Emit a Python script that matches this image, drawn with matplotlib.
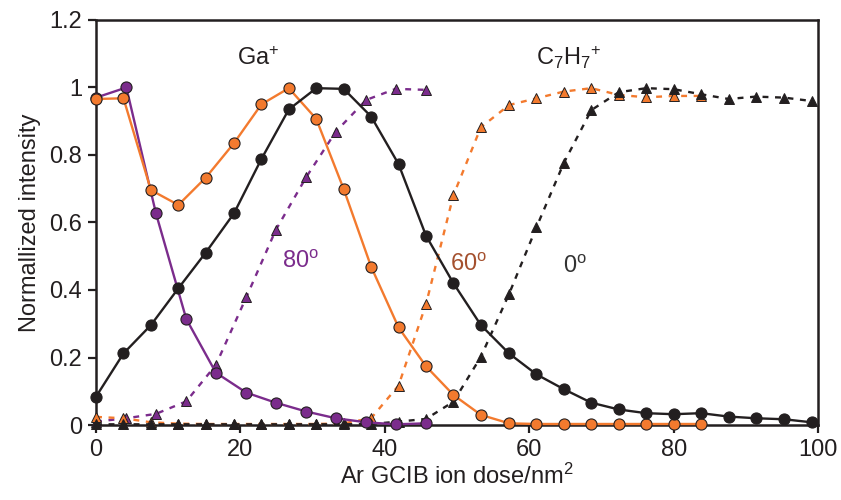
import matplotlib.pyplot as plt

plt.rcParams['font.family'] = ['Liberation Sans', 'DejaVu Sans']
plt.rcParams['mathtext.default'] = 'regular'

# ion doses (per nm^2) for the 0 and 60 degree runs, and the 80 degree run
dose = [0, 3.8, 7.6, 11.4, 15.2, 19.1, 22.9, 26.7, 30.5, 34.3, 38.1, 41.9, 45.7,
        49.5, 53.3, 57.2, 61.0, 64.8, 68.6, 72.4, 76.2, 80.0, 83.8, 87.6, 91.4,
        95.3, 99.1]
dose_80 = [0, 4.2, 8.3, 12.5, 16.6, 20.8, 24.9, 29.1, 33.2, 37.4, 41.5, 45.7]

# Ga+ intensities
ga_0 = [0.084, 0.212, 0.296, 0.405, 0.511, 0.627, 0.788, 0.935, 0.998, 0.996,
        0.914, 0.773, 0.561, 0.42, 0.296, 0.212, 0.150, 0.106, 0.066, 0.046,
        0.035, 0.032, 0.035, 0.025, 0.020, 0.017, 0.008]
ga_60 = [0.966, 0.968, 0.696, 0.652, 0.733, 0.835, 0.950, 0.998, 0.907, 0.699,
         0.469, 0.289, 0.174, 0.089, 0.030, 0.005, 0.003, 0.003, 0.003, 0.003,
         0.003, 0.003, 0.003]
ga_80 = [0.97, 1.0, 0.627, 0.314, 0.155, 0.096, 0.066, 0.040, 0.020, 0.008,
         0.002, 0.005]

# C7H7+ intensities
c7_0 = [0.002, 0.002, 0.002, 0.002, 0.002, 0.002, 0.002, 0.002, 0.002, 0.002,
        0.003, 0.010, 0.018, 0.069, 0.202, 0.388, 0.586, 0.777, 0.933, 0.986,
        0.998, 0.995, 0.980, 0.966, 0.973, 0.970, 0.960]
c7_60 = [0.024, 0.020, 0.008, 0.004, 0.003, 0.003, 0.003, 0.003, 0.003, 0.005,
         0.020, 0.117, 0.358, 0.681, 0.882, 0.948, 0.968, 0.988, 0.998, 0.978,
         0.971, 0.975, 0.975]
c7_80 = [0.01, 0.02, 0.033, 0.070, 0.178, 0.378, 0.578, 0.734, 0.869, 0.963,
         0.996, 0.993]

black = '#231f20'
orange = '#f37a2e'
purple = '#7b2c8c'

fig = plt.figure(figsize=(8.41, 5.0), dpi=100)
ax = fig.add_axes([0.1142, 0.15, 0.8585, 0.81])

# dashed C7H7+ curves
tri = dict(marker='^', markersize=7.5, markeredgecolor=black, markeredgewidth=0.7,
           linestyle=(0, (2.5, 2.8)), linewidth=1.7, clip_on=False)
ax.plot(dose_80, c7_80, color=purple, markerfacecolor=purple, zorder=3, **tri)
ax.plot(dose[:len(c7_60)], c7_60, color=orange, markerfacecolor=orange, zorder=4, **tri)
ax.plot(dose, c7_0, color=black, markerfacecolor=black, zorder=5, **tri)

# solid Ga+ curves
circ = dict(marker='o', markersize=8, markeredgecolor=black, markeredgewidth=0.8,
            linewidth=1.7, clip_on=False)
ax.plot(dose_80, ga_80, color=purple, markerfacecolor=purple, zorder=6, **circ)
ax.plot(dose[:len(ga_60)], ga_60, color=orange, markerfacecolor=orange, zorder=7, **circ)
ax.plot(dose, ga_0, color=black, markerfacecolor=black, zorder=8, **circ)

ax.text(22.4, 1.087, 'Ga$^{+}$', fontsize=17, color=black, ha='center', va='center')
ax.text(65.5, 1.09, 'C$_7$H$_7$$^{+}$', fontsize=17, color=black, ha='center', va='center')
ax.text(28.3, 0.483, '80$^{o}$', fontsize=17, color=purple, ha='center', va='center')
ax.text(51.6, 0.475, '60$^{o}$', fontsize=17, color='#a4502e', ha='center', va='center')
ax.text(66.3, 0.467, '0$^{o}$', fontsize=17, color='#333333', ha='center', va='center')

ax.set_xlim(0, 100)
ax.set_ylim(0, 1.2)
ax.set_xticks([0, 20, 40, 60, 80, 100])
ax.set_yticks([0, 0.2, 0.4, 0.6, 0.8, 1.0, 1.2])
ax.set_yticklabels(['0', '0.2', '0.4', '0.6', '0.8', '1', '1.2'])
ax.tick_params(direction='out', length=6, width=1.6, labelsize=17, colors=black, pad=4)
for s in ax.spines.values():
    s.set_linewidth(1.8)
    s.set_color(black)

ax.set_xlabel('Ar GCIB ion dose/nm$^{2}$', fontsize=17, color=black, labelpad=2)
ax.set_ylabel('Normallized intensity', fontsize=17, color=black, labelpad=6)

fig.savefig('out.png', dpi=100)
plt.close()
